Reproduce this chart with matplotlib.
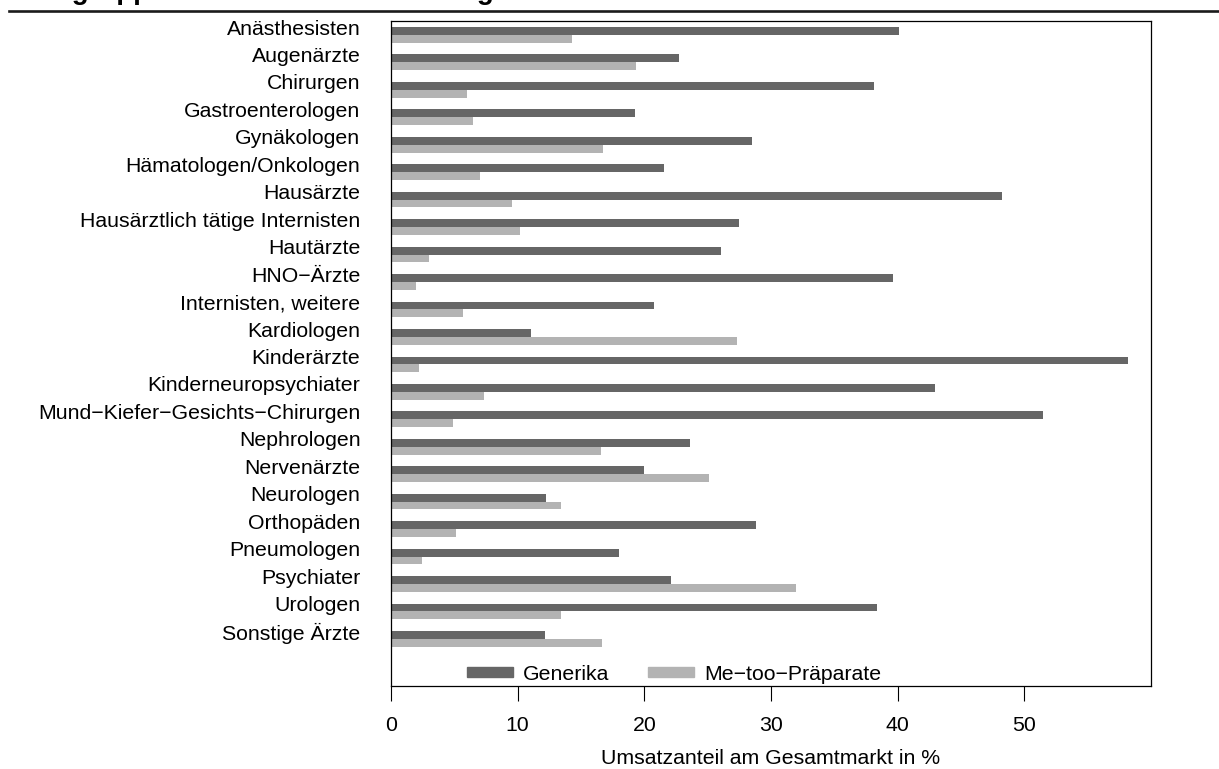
import numpy as np
import matplotlib
matplotlib.use('Agg')
import matplotlib.pyplot as plt
from matplotlib.lines import Line2D
from matplotlib.patches import Patch

# Fachgruppen, von oben nach unten
gruppen = ["Anästhesisten", "Augenärzte", "Chirurgen", "Gastroenterologen",
           "Gynäkologen", "Hämatologen/Onkologen", "Hausärzte",
           "Hausärztlich tätige Internisten", "Hautärzte", "HNO\u2212Ärzte",
           "Internisten, weitere", "Kardiologen", "Kinderärzte",
           "Kinderneuropsychiater", "Mund\u2212Kiefer\u2212Gesichts\u2212Chirurgen",
           "Nephrologen", "Nervenärzte", "Neurologen", "Orthopäden",
           "Pneumologen", "Psychiater", "Urologen", "Sonstige Ärzte"]

# Umsatzanteil am Gesamtmarkt in %
generika = [40.1, 22.7, 38.1, 19.3, 28.5, 21.55, 48.25, 27.5, 26.05, 39.65,
            20.75, 11.05, 58.2, 42.95, 51.5, 23.6, 20.0, 12.25, 28.8, 18.0,
            22.1, 38.35, 12.15]
metoo = [14.3, 19.35, 6.0, 6.5, 16.75, 7.0, 9.55, 10.2, 3.0, 1.95, 5.7, 27.3,
         2.2, 7.35, 4.9, 16.6, 25.1, 13.45, 5.1, 2.45, 32.0, 13.45, 16.65]

xticks = [0, 10, 20, 30, 40, 50]
titel = "Fachgruppen: Umsatzanteile im Vergleich"

dunkel = "#666666"
hell = "#b3b3b3"
fs = 15.3

plt.rcParams['font.family'] = ['Liberation Sans', 'DejaVu Sans']

W, H = 1219, 769
fig = plt.figure(figsize=(W / 100.0, H / 100.0), dpi=100)
ax = fig.add_axes([391.0 / W, 1 - 686.0 / H, 760.0 / W, 665.0 / H])

pos = np.arange(len(gruppen)) * 3.5
ax.barh(pos, generika, height=1, align='edge', color=dunkel, label="Generika")
ax.barh(pos + 1, metoo, height=1, align='edge', color=hell,
        label="Me\u2212too\u2212Präparate")

ax.set_xlim(0, 60)
ax.set_ylim(84.0, -0.77)

ax.set_xticks(xticks)
ax.set_yticks(pos)
ax.set_yticklabels(gruppen)
ax.tick_params(axis='y', length=0, pad=22, labelsize=fs)
ax.tick_params(axis='x', length=10.8, width=0.8, pad=11, labelsize=fs)

for s in ax.spines.values():
    s.set_linewidth(0.9)

ax.set_xlabel("Umsatzanteil am Gesamtmarkt in %", fontsize=fs)
ax.xaxis.label.set_va('center')
ax.xaxis.set_label_coords(0.5, -(758.0 - 686.0) / 665.0)

h = [Patch(color=dunkel), Patch(color=hell)]
fig.legend(h, ["Generika", "Me\u2212too\u2212Präparate"], ncol=2, frameon=False,
           fontsize=fs, loc='center left', borderpad=0, borderaxespad=0,
           handlelength=2.15, handleheight=0.37, handletextpad=0.5,
           columnspacing=1.8, bbox_to_anchor=(467.0 / W, 1 - 674.0 / H))

# abgeschnittene Überschrift und Trennlinie oben
fig.text(7.0 / W, 1 + 1.5 / H, titel, fontsize=20, fontweight='bold',
         va='baseline', ha='left')
fig.add_artist(Line2D([9.0 / W, 1.0], [1 - 10.5 / H, 1 - 10.5 / H],
                      color='#1a1a1a', linewidth=1.9))

fig.savefig("out.png", dpi=100)
